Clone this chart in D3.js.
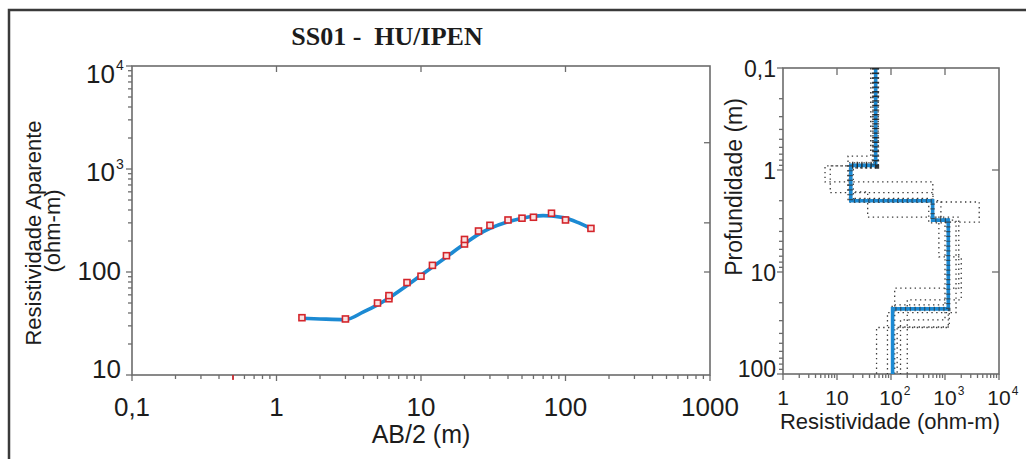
<!DOCTYPE html>
<html>
<head>
<meta charset="utf-8">
<script src="https://cdn.jsdelivr.net/npm/d3@7"></script>
<style>
  body { margin: 0; background: #fff; }
  svg text { font-family: Arial, "Liberation Sans", sans-serif; fill: #1c1c1c; }
</style>
</head>
<body>
<svg id="chart" width="1026" height="459"></svg>
<script>
// --- field data: apparent resistivity vs AB/2 ---
const abHalf = [1.5, 3, 5, 6, 6, 8, 10, 12, 15, 20, 20, 25, 30, 40, 50, 60, 80, 100, 150];
const rhoApp = [36, 35, 50, 55, 59, 79, 91, 116, 144, 187, 207, 250, 284, 320, 333, 340, 372, 320, 265];

// fitted (calculated) curve
const fitAB  = [1.5, 2, 3, 4, 5, 6, 8, 10, 12, 15, 20, 25, 30, 40, 50, 60, 70, 80, 100, 120, 150];
const fitRho = [35.5, 35, 34.5, 41, 48, 56, 74, 93, 112, 140, 188, 232, 265, 308, 333, 348, 353, 350, 334, 305, 265];

// stray mark on the bottom axis
const strayAB = [0.5];

// inverted layered model (resistivity per layer, depth of each layer bottom)
const layerRes    = [52, 18, 590, 1150, 107];
const layerBottom = [0.9, 2.0, 3.1, 23];

// equivalent models (dotted)
const equivRes = [
  [50, 6.0, 595, 1800, 117],
  [42, 16, 37, 4300, 1000, 150],
  [58, 7.5, 600, 1600, 86],
  [48, 17, 37, 930, 1150, 54],
  [52, 16, 590, 770, 2000, 200],
  [55, 20, 840, 1200, 130],
  [45, 17, 500, 1200, 105]
];
const equivBottom = [
  [0.91, 1.31, 2.9, 14.4],
  [0.73, 1.64, 2.06, 3.24, 29.5],
  [0.91, 1.67, 3.1, 25],
  [0.9, 1.97, 2.9, 3.24, 35],
  [0.85, 2.06, 3.2, 7.1, 18.8],
  [0.95, 2.0, 3.0, 34.6],
  [0.88, 1.9, 3.3, 21]
];

// tick values / labels
const xTicksL = [0.1, 1, 10, 100, 1000];
const xLabelsL = ["0,1", "1", "10", "100", "1000"];
const yTicksL = [10, 100, 1000, 10000];
const yLabelsL = [["10", ""], ["100", ""], ["10", "3"], ["10", "4"]];
const topTicksL = [1, 10, 100];
const rightTicksL = [100, 300, 1800];

const xTicksR = [1, 10, 100, 1000, 10000];
const xLabelsR = [["1", ""], ["10", ""], ["10", "2"], ["10", "3"], ["10", "4"]];
const yTicksR = [0.1, 1, 10, 100];
const yLabelsR = ["0,1", "1", "10", "100"];
const topTicksR = [10, 100, 1000];
const rightTicksR = [1, 10];

const AXIS = "#6c6c6c";
const svg = d3.select("#chart");

// outer frame (top + left)
svg.append("path")
  .attr("d", "M9,459 V10 H1026")
  .attr("fill", "none").attr("stroke", "#3a3a3a").attr("stroke-width", 2.5);

// title
svg.append("text")
  .attr("x", 387).attr("y", 45)
  .attr("text-anchor", "middle")
  .style("font-family", "'Liberation Serif', 'Times New Roman', serif")
  .style("font-weight", "bold").style("font-size", "26px")
  .style("white-space", "pre")
  .text("SS01 -  HU/IPEN");

// scales
const xL = d3.scaleLog().domain([0.1, 1000]).range([132, 710]);
const yL = d3.scaleLog().domain([10, 10000]).range([375, 66]);
const xR = d3.scaleLog().domain([1, 10000]).range([783, 999]);
const yR = d3.scaleLog().domain([0.1, 100]).range([68, 374]);

function minors(lo, hi) {
  const out = [];
  for (let e = Math.round(Math.log10(lo)); e < Math.round(Math.log10(hi)); e++)
    for (let m = 2; m < 10; m++) out.push(m * Math.pow(10, e));
  return out;
}

function tickLines(g, vals, fn) {
  g.selectAll(null).data(vals).enter().append("line")
    .each(function(d) {
      const c = fn(d);
      d3.select(this).attr("x1", c[0]).attr("y1", c[1]).attr("x2", c[2]).attr("y2", c[3]);
    })
    .attr("stroke", AXIS).attr("stroke-width", 1.3);
}

function powLabel(g, x, y, base, sup, anchor, fs, supFs) {
  const t = g.append("text").attr("x", x).attr("y", y)
    .attr("text-anchor", anchor).style("font-size", fs + "px").text(base);
  if (sup) {
    const w = t.node().getComputedTextLength();
    const right = anchor === "end" ? x : anchor === "middle" ? x + w / 2 : x + w;
    g.append("text").attr("x", right + 1).attr("y", y - fs * 0.48)
      .style("font-size", supFs + "px").text(sup);
  }
}

// ================= left panel: sounding curve =================
const gL = svg.append("g");
const [l0, l1] = xL.range(), [b0, t0] = yL.range();

tickLines(gL, minors(10, 10000), d => [l0, yL(d), l0 - 4, yL(d)]);
tickLines(gL, yTicksL, d => [l0, yL(d), l0 - 6, yL(d)]);
tickLines(gL, minors(0.1, 1000), d => [xL(d), b0, xL(d), b0 + 4]);
tickLines(gL, xTicksL, d => [xL(d), b0, xL(d), b0 + 6]);
tickLines(gL, topTicksL, d => [xL(d), t0, xL(d), t0 + 6]);
tickLines(gL, rightTicksL, d => [l1, yL(d), l1 - 6, yL(d)]);

gL.append("rect")
  .attr("x", l0).attr("y", t0).attr("width", l1 - l0).attr("height", b0 - t0)
  .attr("fill", "none").attr("stroke", AXIS).attr("stroke-width", 1.6);

// stray red mark
gL.selectAll(null).data(strayAB).enter().append("line")
  .attr("x1", d => xL(d)).attr("x2", d => xL(d))
  .attr("y1", b0).attr("y2", b0 + 5)
  .attr("stroke", "#d2232a").attr("stroke-width", 1.6);

// fitted curve
const fitLine = d3.line()
  .x((d, i) => xL(fitAB[i])).y(d => yL(d))
  .curve(d3.curveMonotoneX);
gL.append("path")
  .attr("d", fitLine(fitRho))
  .attr("fill", "none").attr("stroke", "#1c8ad3").attr("stroke-width", 3.6)
  .attr("stroke-linecap", "round");

// observed points
gL.selectAll(null).data(rhoApp).enter().append("rect")
  .attr("x", (d, i) => xL(abHalf[i]) - 3).attr("y", d => yL(d) - 3)
  .attr("width", 6).attr("height", 6)
  .attr("fill", "#fbe1e1").attr("stroke", "#d4252b").attr("stroke-width", 1.6);

// tick labels
xTicksL.forEach((v, i) => {
  gL.append("text").attr("x", xL(v)).attr("y", 416)
    .attr("text-anchor", "middle").style("font-size", "26px").text(xLabelsL[i]);
});
yTicksL.forEach((v, i) => {
  const [base, sup] = yLabelsL[i];
  const y = yL(v) + 3 + 4.6 * i;
  powLabel(gL, sup ? 115 : 121, y, base, sup, "end", 26, 14);
});

gL.append("text").attr("x", 421).attr("y", 443)
  .attr("text-anchor", "middle").style("font-size", "25px").text("AB/2 (m)");

gL.append("text")
  .attr("transform", "translate(41,233) rotate(-90)")
  .attr("text-anchor", "middle").style("font-size", "22px").text("Resistividade Aparente");
gL.append("text")
  .attr("transform", "translate(60,231) rotate(-90)")
  .attr("text-anchor", "middle").style("font-size", "22px").text("(ohm-m)");

// ================= right panel: layered model =================
const gR = svg.append("g");
const [r0, r1] = xR.range(), [rt, rb] = yR.range();

tickLines(gR, minors(0.1, 100), d => [r0, yR(d), r0 - 4, yR(d)]);
tickLines(gR, yTicksR, d => [r0, yR(d), r0 - 6, yR(d)]);
tickLines(gR, minors(1, 10000), d => [xR(d), rb, xR(d), rb + 4]);
tickLines(gR, xTicksR, d => [xR(d), rb, xR(d), rb + 6]);
tickLines(gR, topTicksR, d => [xR(d), rt, xR(d), rt + 7]);
tickLines(gR, rightTicksR, d => [r1, yR(d), r1 - 7, yR(d)]);

gR.append("rect")
  .attr("x", r0).attr("y", rt).attr("width", r1 - r0).attr("height", rb - rt)
  .attr("fill", "none").attr("stroke", AXIS).attr("stroke-width", 1.6);

function stepPoints(res, bottoms) {
  const pts = [[res[0], 0.1]];
  bottoms.forEach((b, i) => { pts.push([res[i], b]); pts.push([res[i + 1], b]); });
  pts.push([res[res.length - 1], 100]);
  return pts;
}
const stepLine = d3.line().x(d => xR(d[0])).y(d => yR(d[1]));

// equivalent models
gR.selectAll(null).data(equivRes).enter().append("path")
  .attr("d", (d, i) => stepLine(stepPoints(d, equivBottom[i])))
  .attr("fill", "none").attr("stroke", "#3a3a3a").attr("stroke-width", 1.3)
  .attr("stroke-dasharray", "1.4 3.4");

// best model
const bestPts = stepPoints(layerRes, layerBottom);
gR.append("path")
  .attr("d", stepLine(bestPts))
  .attr("fill", "none").attr("stroke", "#1c8ad3").attr("stroke-width", 3.6);

// hatch overlay on the well-resolved part of the model
gR.append("path")
  .attr("d", stepLine(bestPts.slice(0, 3)))
  .attr("fill", "none").attr("stroke", "#222").attr("stroke-width", 7)
  .attr("stroke-dasharray", "1.4 3.2").attr("opacity", 0.9);
gR.append("path")
  .attr("d", stepLine(bestPts.slice(2, bestPts.length - 1)))
  .attr("fill", "none").attr("stroke", "#333").attr("stroke-width", 4.5)
  .attr("stroke-dasharray", "1.2 3.6").attr("opacity", 0.7);

// tick labels
yTicksR.forEach((v, i) => {
  gR.append("text").attr("x", 776).attr("y", yR(v) + (i === 3 ? 3 : 8.5))
    .attr("text-anchor", "end").style("font-size", "23px").text(yLabelsR[i]);
});
xTicksR.forEach((v, i) => {
  const [base, sup] = xLabelsR[i];
  powLabel(gR, xR(v), 405, base, sup, "middle", 21, 12);
});

gR.append("text").attr("x", 890).attr("y", 429)
  .attr("text-anchor", "middle").style("font-size", "22px").text("Resistividade (ohm-m)");
gR.append("text")
  .attr("transform", "translate(742,187) rotate(-90)")
  .attr("text-anchor", "middle").style("font-size", "23px").text("Profundidade (m)");
</script>
</body>
</html>
